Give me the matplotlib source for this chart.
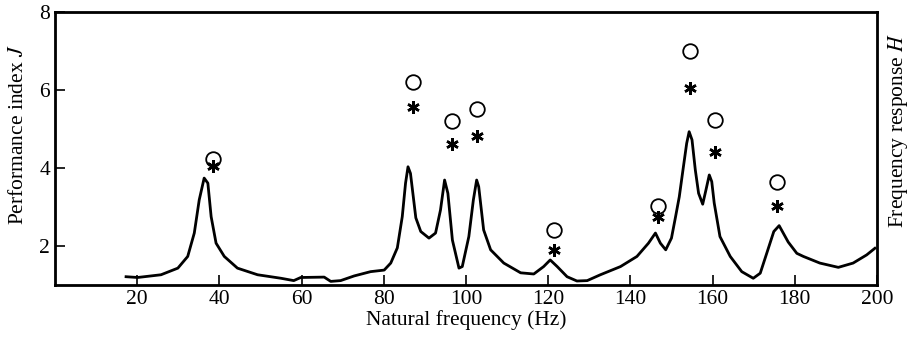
import numpy as np
import matplotlib
matplotlib.use("Agg")
import matplotlib.pyplot as plt

plt.rcParams['font.family'] = ['Liberation Serif', 'DejaVu Serif']
plt.rcParams['mathtext.fontset'] = 'stix'

# frequency response curve
freq = [17.3, 20.1, 25.8, 29.9, 32.3, 33.9, 35.1, 36.3, 37.2, 38.0, 39.2, 41.2, 44.4, 49.3,
        55.0, 58.1, 59.8, 65.5, 67.1, 69.5, 72.8, 76.8, 80.1, 81.7, 83.3, 84.5, 85.3, 85.9,
        86.5, 87.8, 89.0, 91.0, 92.6, 93.8, 94.8, 95.6, 96.7, 98.3, 99.1, 100.7, 101.8,
        102.6, 103.1, 104.3, 106.0, 109.2, 113.3, 116.5, 118.9, 120.5, 122.2, 124.6, 127.0,
        129.5, 132.7, 137.6, 141.6, 144.4, 146.1, 147.3, 148.6, 150.0, 151.0, 151.9, 152.8,
        153.7, 154.3, 155.0, 155.8, 156.6, 157.6, 158.4, 159.2, 159.8, 160.4, 161.8, 164.3,
        167.1, 169.9, 171.6, 173.3, 174.9, 176.2, 178.4, 180.5, 182.1, 186.1, 190.6, 194.2,
        197.5, 199.5]
resp = [1.21, 1.19, 1.26, 1.43, 1.73, 2.33, 3.18, 3.74, 3.61, 2.75, 2.07, 1.73, 1.43, 1.26,
        1.17, 1.11, 1.19, 1.20, 1.09, 1.11, 1.23, 1.34, 1.38, 1.56, 1.95, 2.75, 3.61, 4.03,
        3.86, 2.72, 2.37, 2.20, 2.33, 2.92, 3.69, 3.35, 2.15, 1.43, 1.47, 2.24, 3.18,
        3.69, 3.52, 2.41, 1.90, 1.56, 1.31, 1.28, 1.47, 1.64, 1.47, 1.21, 1.10,
        1.11, 1.26, 1.47, 1.73, 2.07, 2.33, 2.07, 1.90, 2.20, 2.75, 3.26, 3.95,
        4.63, 4.93, 4.72, 3.95, 3.35, 3.07, 3.44, 3.82, 3.65, 3.10, 2.24, 1.73,
        1.34, 1.17, 1.30, 1.85, 2.37, 2.52, 2.10, 1.81, 1.73, 1.56, 1.45, 1.56,
        1.77, 1.94]

# performance index at natural frequencies
nat_freq = [38.5, 87.0, 96.7, 102.8, 121.5, 146.8, 154.4, 160.7, 175.7]
j_circle = [4.24, 6.20, 5.20, 5.51, 2.41, 3.03, 7.00, 5.23, 3.64]
j_star = [4.05, 5.56, 4.62, 4.82, 1.90, 2.74, 6.05, 4.41, 3.03]

fig = plt.figure(figsize=(9.1, 3.5), dpi=100)
ax = fig.add_axes([0.0604, 0.186, 0.9033, 0.7797])

ax.plot(freq, resp, color="black", lw=2.0)
ax.plot(nat_freq, j_circle, linestyle="none", marker="o", markersize=10.5,
        markerfacecolor="white", markeredgecolor="black", markeredgewidth=1.3)
ax.plot(nat_freq, j_star, linestyle="none", marker=(6, 2, 0), markersize=9,
        color="black", markeredgewidth=1.8)

ax.set_xlim(0, 200)
ax.set_ylim(1, 8)
ax.set_xticks(np.arange(20, 201, 20))
ax.set_yticks([2, 4, 6, 8])
ax.tick_params(direction="in", length=7, width=1.2, labelsize=15.5, top=False, right=False)
for s in ax.spines.values():
    s.set_linewidth(2.0)

ax.set_xlabel("Natural frequency (Hz)", fontsize=15.5, labelpad=1)
ax.set_ylabel("Performance index $J$", fontsize=15.5)
ax.yaxis.set_label_coords(-0.033, 0.55)

ax2 = ax.twinx()
ax2.set_ylim(1, 8)
ax2.set_yticks([])
ax2.set_ylabel("Frequency response $H$", fontsize=15.5)
ax2.yaxis.set_label_coords(1.011, 0.565)

fig.savefig("out.png", dpi=100)
